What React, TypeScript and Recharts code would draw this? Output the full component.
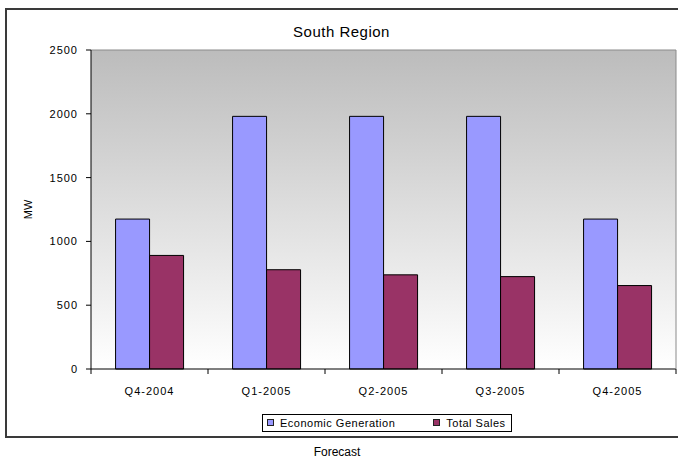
import React from "react";
import {
  BarChart,
  Bar,
  XAxis,
  YAxis,
  CartesianGrid,
  Legend,
  ReferenceLine,
} from "recharts";

const quarters = ["Q4-2004", "Q1-2005", "Q2-2005", "Q3-2005", "Q4-2005"];
const economicGeneration = [1175, 1980, 1980, 1980, 1175];
const totalSales = [890, 778, 738, 724, 654];
const yTicks = [0, 500, 1000, 1500, 2000, 2500];
const edgeTicks = [0, 1, 2, 3, 4, 5];

const data = quarters.map((q, i) => ({
  quarter: q,
  econ: economicGeneration[i],
  sales: totalSales[i],
  pos: i + 0.5,
}));

const font = '"Liberation Sans", Arial, sans-serif';

const LegendBox = ({ payload }: any) => (
  <div
    style={{
      display: "inline-flex",
      alignItems: "center",
      height: 18,
      boxSizing: "border-box",
      border: "1px solid #000",
      background: "#fff",
      padding: "0 5px 0 4px",
      fontFamily: font,
      fontSize: 11,
      letterSpacing: 0.5,
      color: "#000",
    }}
  >
    {(payload || []).map((p: any, i: number) => (
      <span key={i} style={{ display: "inline-flex", alignItems: "center", marginLeft: i ? 38 : 0 }}>
        <span
          style={{
            width: 5,
            height: 5,
            background: p.color,
            border: "1px solid #222",
            marginRight: 6,
          }}
        />
        {p.value}
      </span>
    ))}
  </div>
);

export default function App() {
  return (
    <div style={{ position: "absolute", left: 0, top: 0, width: 678, height: 462, background: "#fff" }}>
      <div
        style={{
          position: "absolute",
          left: 5,
          top: 8,
          width: 673,
          height: 430,
          boxSizing: "border-box",
          border: "2px solid #3a3a3a",
          borderRight: "none",
        }}
      />
      <div
        style={{
          position: "absolute",
          left: 0,
          width: 683,
          top: 23,
          textAlign: "center",
          fontFamily: font,
          fontSize: 15,
          letterSpacing: 0.5,
        }}
      >
        South Region
      </div>
      <div
        style={{
          position: "absolute",
          left: 0,
          width: 674,
          top: 445,
          textAlign: "center",
          fontFamily: font,
          fontSize: 12,
        }}
      >
        Forecast
      </div>
      <div style={{ position: "absolute", left: 0, top: 0 }}>
        <BarChart
          width={678}
          height={462}
          data={data}
          margin={{ top: 50, right: 0, bottom: 30, left: 15 }}
          barCategoryGap="21%"
          barGap={0}
        >
          <defs>
            <linearGradient id="plotBg" x1="0" y1="0" x2="0" y2="1">
              <stop offset="0%" stopColor="#bcbcbc" />
              <stop offset="100%" stopColor="#ffffff" />
            </linearGradient>
          </defs>
          <CartesianGrid xAxisId={1} fill="url(#plotBg)" horizontal={false} vertical={false} />
          <XAxis
            xAxisId={1}
            dataKey="quarter"
            tickLine={false}
            axisLine={false}
            height={37}
            tickMargin={6}
            tick={{ fill: "#000", fontSize: 11, fontFamily: font, letterSpacing: 1 }}
          />
          <XAxis
            xAxisId={0}
            dataKey="pos"
            type="number"
            domain={[0, 5]}
            ticks={edgeTicks}
            interval={0}
            tick={() => <g />}
            tickLine={{ stroke: "#000" }}
            tickSize={5}
            height={6}
            stroke="#000"
            axisLine={{ stroke: "#000" }}
          />
          <YAxis
            domain={[0, 2500]}
            ticks={yTicks}
            width={76}
            tickSize={5}
            tickMargin={8}
            stroke="#000"
            tick={{ fill: "#000", fontSize: 11, fontFamily: font, letterSpacing: 1 }}
            label={{
              value: "MW",
              angle: -90,
              position: "insideLeft",
              offset: 13,
              style: { textAnchor: "middle", fontSize: 11, fontFamily: font, fill: "#000" },
            }}
          />
          <YAxis
            yAxisId="right"
            orientation="right"
            width={2}
            domain={[0, 2500]}
            tick={false}
            tickLine={false}
            axisLine={{ stroke: "#8a8a8a" }}
          />
          <ReferenceLine xAxisId={1} y={2500} stroke="#8a8a8a" />
          <Legend
            verticalAlign="bottom"
            content={<LegendBox />}
            wrapperStyle={{ left: 262, top: 412, bottom: "auto", width: "auto", height: 20 }}
          />
          <Bar
            xAxisId={1}
            dataKey="econ"
            name="Economic Generation"
            fill="#9999ff"
            stroke="#000"
            strokeWidth={1}
            isAnimationActive={false}
          />
          <Bar
            xAxisId={1}
            dataKey="sales"
            name="Total Sales"
            fill="#993366"
            stroke="#000"
            strokeWidth={1}
            isAnimationActive={false}
          />
        </BarChart>
      </div>
    </div>
  );
}
